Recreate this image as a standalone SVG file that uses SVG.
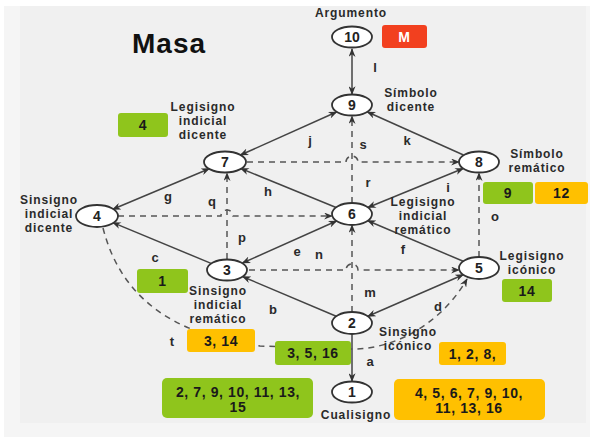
<svg xmlns="http://www.w3.org/2000/svg" width="595" height="437" viewBox="0 0 595 437">
  <style>
    .node ellipse { fill: #ffffff; stroke: #333333; stroke-width: 1.8; }
    .num { font-family: "Liberation Sans", Arial, sans-serif; font-weight: bold; font-size: 14px; fill: #222222; text-anchor: middle; }
    .lbl { font-family: "Liberation Sans", Arial, sans-serif; font-weight: bold; font-size: 12px; letter-spacing: 0.9px; fill: #2a2a2a; text-anchor: middle; }
    .el { font-family: "Liberation Sans", Arial, sans-serif; font-weight: bold; font-size: 13px; fill: #2a2a2a; text-anchor: middle; }
    .solid { fill: none; stroke: #444444; stroke-width: 1.5; }
    .dash { fill: none; stroke: #555555; stroke-width: 1.5; stroke-dasharray: 6 5; }
    .box text { font-family: "Liberation Sans", Arial, sans-serif; font-weight: bold; font-size: 14px; letter-spacing: 0.6px; fill: #1a1a1a; text-anchor: middle; }
    .green { fill: #8fc51c; }
    .yellow { fill: #ffc000; }
    .red { fill: #f2401f; }
  </style>
  <defs>
    <marker id="ah" viewBox="0 0 10 8" refX="9" refY="4" markerWidth="9" markerHeight="7" markerUnits="userSpaceOnUse" orient="auto-start-reverse">
      <path d="M0,0 L10,4 L0,8 L3,4 z" fill="#333333"/>
    </marker>
  </defs>

  <!-- background panel -->
  <rect x="0" y="0" width="595" height="437" fill="#ffffff"/>
  <rect x="4" y="6" width="586" height="431" fill="#f5f5f5"/>
  <rect x="20" y="6" width="566" height="417" fill="#f0f0f0"/>

  <text x="132" y="53" font-family="'Liberation Sans', Arial, sans-serif" font-weight="bold" font-size="28" letter-spacing="1" fill="#111111">Masa</text>

  <!-- connectors -->
  <g id="connectors">
    <!-- solid relations -->
    <line class="solid" x1="352" y1="49" x2="352" y2="94" marker-start="url(#ah)" marker-end="url(#ah)"/>
    <line class="solid" x1="240.5" y1="155" x2="336.5" y2="112" marker-start="url(#ah)" marker-end="url(#ah)"/>
    <line class="solid" x1="463.5" y1="155" x2="367.5" y2="112" marker-end="url(#ah)"/>
    <line class="solid" x1="112.8" y1="209.3" x2="209.2" y2="168.7" marker-start="url(#ah)" marker-end="url(#ah)"/>
    <line class="solid" x1="211.1" y1="263.4" x2="112.9" y2="222.6" marker-end="url(#ah)"/>
    <line class="solid" x1="336.1" y1="207.5" x2="240.9" y2="168.5" marker-end="url(#ah)"/>
    <line class="solid" x1="242.5" y1="263" x2="336.5" y2="221" marker-start="url(#ah)" marker-end="url(#ah)"/>
    <line class="solid" x1="463.1" y1="168.5" x2="367.9" y2="207.5" marker-start="url(#ah)" marker-end="url(#ah)"/>
    <line class="solid" x1="463.2" y1="261.3" x2="367.8" y2="220.7" marker-end="url(#ah)"/>
    <line class="solid" x1="336.2" y1="316.3" x2="242.8" y2="276.7" marker-end="url(#ah)"/>
    <line class="solid" x1="367.8" y1="316.3" x2="463.2" y2="274.7" marker-start="url(#ah)" marker-end="url(#ah)"/>
    <line class="solid" x1="352" y1="334" x2="352" y2="381" marker-end="url(#ah)"/>

    <!-- dashed relations, with hops where they cross -->
    <path class="dash" d="M118,216 L221,216 A6,6 0 0 1 233,216 L332,216" marker-end="url(#ah)"/>
    <path class="dash" d="M247,162 L346,162 A6,6 0 0 1 358,162 L459,162" marker-end="url(#ah)"/>
    <path class="dash" d="M249,270 L346,270 A6,6 0 0 1 358,270 L459,270" marker-end="url(#ah)"/>
    <line class="dash" x1="227" y1="259" x2="227" y2="173" marker-end="url(#ah)"/>
    <line class="dash" x1="352" y1="312" x2="352" y2="225" marker-end="url(#ah)"/>
    <line class="dash" x1="352" y1="203" x2="352" y2="116" marker-end="url(#ah)"/>
    <line class="dash" x1="479" y1="257" x2="479" y2="173" marker-end="url(#ah)"/>
    <path class="dash" d="M103,228 C120,295 170,335 260,346 L350,349 C400,350 445,318 467,279" marker-end="url(#ah)"/>

    <!-- relation letters -->
    <text class="el" x="375" y="72">l</text>
    <text class="el" x="310" y="145">j</text>
    <text class="el" x="363" y="149">s</text>
    <text class="el" x="407" y="145">k</text>
    <text class="el" x="368" y="187">r</text>
    <text class="el" x="168" y="201">g</text>
    <text class="el" x="212" y="206">q</text>
    <text class="el" x="268" y="196">h</text>
    <text class="el" x="448" y="192">i</text>
    <text class="el" x="495" y="221">o</text>
    <text class="el" x="242" y="242">p</text>
    <text class="el" x="297" y="256">e</text>
    <text class="el" x="319" y="259">n</text>
    <text class="el" x="403" y="254">f</text>
    <text class="el" x="155" y="262">c</text>
    <text class="el" x="370" y="297">m</text>
    <text class="el" x="273" y="314">b</text>
    <text class="el" x="438" y="311">d</text>
    <text class="el" x="172" y="346">t</text>
    <text class="el" x="370" y="366">a</text>
  </g>

  <!-- sign classes -->
  <g id="n10" class="node">
    <ellipse cx="352" cy="37" rx="20" ry="10.5"/>
    <text class="num" x="352" y="42">10</text>
    <text class="lbl" x="351" y="17">Argumento</text>
  </g>
  <g id="n9" class="node">
    <ellipse cx="352" cy="105" rx="20" ry="10.5"/>
    <text class="num" x="352" y="110">9</text>
    <text class="lbl" x="411" y="97">Símbolo</text>
    <text class="lbl" x="411" y="111">dicente</text>
  </g>
  <g id="n7" class="node">
    <ellipse cx="225" cy="162" rx="21" ry="10.5"/>
    <text class="num" x="225" y="167">7</text>
    <text class="lbl" x="203" y="111">Legisigno</text>
    <text class="lbl" x="203" y="125">indicial</text>
    <text class="lbl" x="203" y="139">dicente</text>
  </g>
  <g id="n8" class="node">
    <ellipse cx="479" cy="162" rx="20" ry="10.5"/>
    <text class="num" x="479" y="167">8</text>
    <text class="lbl" x="537" y="158">Símbolo</text>
    <text class="lbl" x="537" y="172">remático</text>
  </g>
  <g id="n4" class="node">
    <ellipse cx="97" cy="216" rx="21" ry="11"/>
    <text class="num" x="97" y="221">4</text>
    <text class="lbl" x="49" y="204">Sinsigno</text>
    <text class="lbl" x="49" y="218">indicial</text>
    <text class="lbl" x="49" y="232">dicente</text>
  </g>
  <g id="n6" class="node">
    <ellipse cx="352" cy="214" rx="20" ry="11"/>
    <text class="num" x="352" y="219">6</text>
    <text class="lbl" x="423" y="206">Legisigno</text>
    <text class="lbl" x="423" y="220">indicial</text>
    <text class="lbl" x="423" y="234">remático</text>
  </g>
  <g id="n3" class="node">
    <ellipse cx="227" cy="270" rx="20" ry="10.5"/>
    <text class="num" x="227" y="275">3</text>
    <text class="lbl" x="218" y="295">Sinsigno</text>
    <text class="lbl" x="218" y="309">indicial</text>
    <text class="lbl" x="218" y="323">remático</text>
  </g>
  <g id="n5" class="node">
    <ellipse cx="479" cy="268" rx="20" ry="11"/>
    <text class="num" x="479" y="273">5</text>
    <text class="lbl" x="532" y="260">Legisigno</text>
    <text class="lbl" x="532" y="274">icónico</text>
  </g>
  <g id="n2" class="node">
    <ellipse cx="352" cy="323" rx="20" ry="11"/>
    <text class="num" x="352" y="328">2</text>
    <text class="lbl" x="408" y="336">Sinsigno</text>
    <text class="lbl" x="408" y="350">icónico</text>
  </g>
  <g id="n1" class="node">
    <ellipse cx="352" cy="392" rx="20" ry="10.5"/>
    <text class="num" x="352" y="397">1</text>
    <text class="lbl" x="356" y="419">Cualisigno</text>
  </g>

  <!-- number tags -->
  <g id="tag-m" class="box">
    <rect class="red" x="382" y="25" width="45" height="23" rx="3"/>
    <text x="404.5" y="42" style="fill:#ffffff">M</text>
  </g>
  <g id="tag-4" class="box">
    <rect class="green" x="118" y="113" width="50" height="24" rx="3"/>
    <text x="143" y="130">4</text>
  </g>
  <g id="tag-1" class="box">
    <rect class="green" x="137" y="269" width="51" height="24" rx="3"/>
    <text x="162.5" y="286">1</text>
  </g>
  <g id="tag-3-14" class="box">
    <rect class="yellow" x="187" y="329" width="68" height="23" rx="3"/>
    <text x="221" y="346">3, 14</text>
  </g>
  <g id="tag-3-5-16" class="box">
    <rect class="green" x="275" y="341" width="76" height="24" rx="3"/>
    <text x="313" y="358">3, 5, 16</text>
  </g>
  <g id="tag-9" class="box">
    <rect class="green" x="483" y="182" width="50" height="22" rx="3"/>
    <text x="508" y="198">9</text>
  </g>
  <g id="tag-12" class="box">
    <rect class="yellow" x="535" y="182" width="53" height="22" rx="3"/>
    <text x="561.5" y="198">12</text>
  </g>
  <g id="tag-14" class="box">
    <rect class="green" x="502" y="279" width="50" height="23" rx="3"/>
    <text x="527" y="296">14</text>
  </g>
  <g id="tag-1-2-8" class="box">
    <rect class="yellow" x="439" y="342" width="67" height="23" rx="3"/>
    <text x="472.5" y="359">1, 2, 8,</text>
  </g>
  <g id="tag-green-list" class="box">
    <rect class="green" x="162" y="378" width="151" height="40" rx="5"/>
    <text x="238" y="397">2, 7, 9, 10, 11, 13,</text>
    <text x="238" y="412">15</text>
  </g>
  <g id="tag-yellow-list" class="box">
    <rect class="yellow" x="394" y="379" width="151" height="41" rx="5"/>
    <text x="469" y="398">4, 5, 6, 7, 9, 10,</text>
    <text x="469" y="413">11, 13, 16</text>
  </g>
</svg>
